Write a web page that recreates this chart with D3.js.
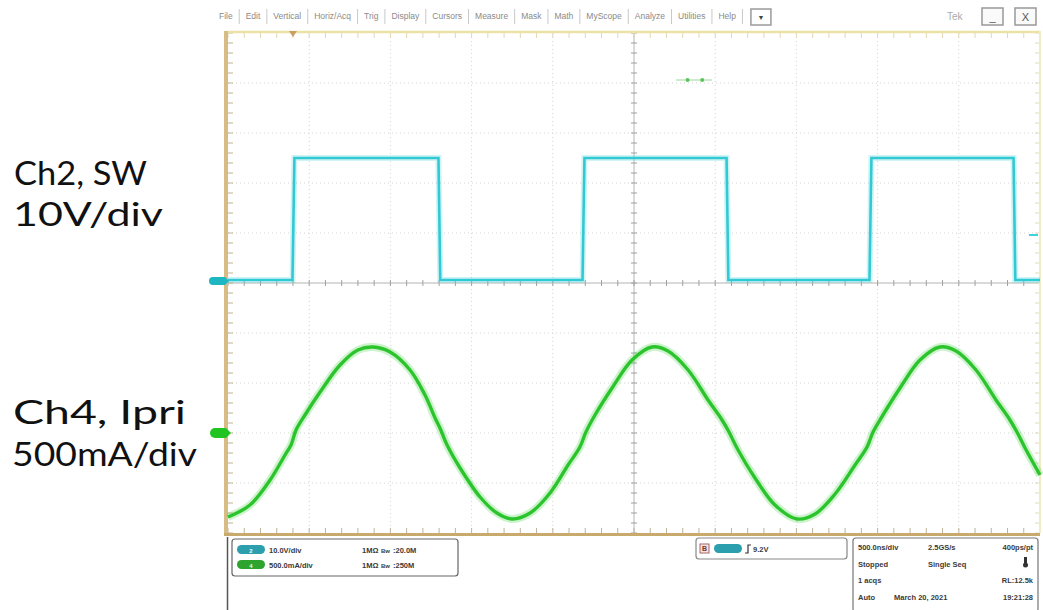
<!DOCTYPE html>
<html>
<head>
<meta charset="utf-8">
<script src="https://cdn.jsdelivr.net/npm/d3@7"></script>
<style>
  body { margin: 0; background: #fff; }
  svg { display: block; }
</style>
</head>
<body>
<div id="chart"></div>
<script>
// Oscilloscope capture: switch node (Ch2) and primary current (Ch4)

// Scope menu bar
const menuItems = ["File", "Edit", "Vertical", "Horiz/Acq", "Trig", "Display", "Cursors",
  "Measure", "Mask", "Math", "MyScope", "Analyze", "Utilities", "Help"];

// Side labels
const ch2Label = ["Ch2, SW", "10V/div"];
const ch4Label = ["Ch4, Ipri", "500mA/div"];

// Ch2 switch node, time in us, volts
const swTime = [0, 0.397, 0.409, 1.296, 1.307, 2.183, 2.195, 3.070, 3.081, 3.950, 3.962, 4.837, 4.848, 5.0];
const swVolt = [0.2, 0.2, 24.6, 24.6, 0.2, 0.2, 24.6, 24.6, 0.2, 0.2, 24.6, 24.6, 0.2, 0.2];

// Ch4 primary current, time in us, mA
const ipriTime = [0.000, 0.135, 0.259, 0.351, 0.388, 0.419, 0.474, 0.567, 0.690, 0.800, 0.893, 0.998,
  1.121, 1.213, 1.275, 1.305, 1.349, 1.429, 1.552, 1.656, 1.749, 1.860, 1.983, 2.094, 2.167, 2.204,
  2.260, 2.365, 2.488, 2.611, 2.709, 2.833, 2.956, 3.042, 3.085, 3.134, 3.245, 3.368, 3.504, 3.615,
  3.738, 3.861, 3.935, 3.972, 4.033, 4.138, 4.261, 4.384, 4.483, 4.606, 4.729, 4.815, 4.858, 4.908, 5.000];
const ipriCurrent = [-840, -720, -470, -220, -120, 30, 180, 410, 680, 830, 860, 810,
  630, 380, 150, 50, -120, -350, -640, -800, -860, -800, -600, -320, -140, 10,
  180, 450, 730, 860, 820, 630, 330, 130, 10, -150, -450, -720, -860, -810,
  -610, -320, -140, 10, 180, 450, 730, 860, 820, 630, 330, 130, 10, -150, -420];

// Trigger
const trigSource = "2";
const trigLevel = 9.2; // V

// Readouts
const readoutChannels = ["2", "4"];
const readoutScales = ["10.0V/div", "500.0mA/div"];
const readoutCoupling = ["1MΩ", "1MΩ"];
const readoutBandwidth = ["20.0M", "250M"];
const acqRows = [
  ["500.0ns/div", "2.5GS/s", "400ps/pt"],
  ["Stopped", "Single Seq", ""],
  ["1 acqs", "", "RL:12.5k"],
  ["Auto", "March 20, 2021", "19:21:28"]];

const W = 1043, H = 610;
const svg = d3.select("#chart").append("svg").attr("width", W).attr("height", H);

const cyan = "#3dd3dd", green = "#34d034";
const plot = { left: 228, right: 1040, top: 33, bottom: 533 };

// Scales: 0.5 us/div horizontally, 10 divisions each way
const x = d3.scaleLinear().domain([0, 5]).range([plot.left, plot.right]);
const div = d3.scaleLinear().domain([-5, 5]).range([plot.bottom, plot.top]);
const ySw = d3.scaleLinear().domain([0, 10]).range([281, 231]);
const yI = d3.scaleLinear().domain([0, 500]).range([433, 383]);

// ---- menu bar
const menu = svg.append("g").attr("font-family", "Liberation Sans, Arial, sans-serif")
  .attr("font-size", 8.5).attr("fill", "#8a8a8a");
let mx = 219;
menuItems.forEach(m => {
  const t = menu.append("text").attr("x", mx).attr("y", 19).text(m);
  mx += t.node().getComputedTextLength() + 6.5;
  menu.append("line").attr("x1", mx).attr("x2", mx).attr("y1", 9).attr("y2", 24)
    .attr("stroke", "#c8c8c8");
  mx += 6.5;
});
menu.append("rect").attr("x", mx + 2).attr("y", 9).attr("width", 20).attr("height", 16)
  .attr("fill", "#fff").attr("stroke", "#9a9a9a").attr("stroke-width", 1.5);
menu.append("text").attr("x", mx + 12).attr("y", 20).attr("text-anchor", "middle")
  .attr("fill", "#444").attr("font-size", 7).text("▼");
menu.append("text").attr("x", 947).attr("y", 20).attr("font-size", 10).attr("fill", "#aaa").text("Tek");
[[982, "_"], [1015, "X"]].forEach(([bx, s]) => {
  menu.append("rect").attr("x", bx).attr("y", 8).attr("width", 21).attr("height", 17)
    .attr("fill", "#fafafa").attr("stroke", "#999").attr("stroke-width", 1.5);
  menu.append("text").attr("x", bx + 10.5).attr("y", 21).attr("text-anchor", "middle")
    .attr("font-size", 11).attr("fill", "#555").text(s);
});

// ---- graticule
const grid = svg.append("g");
grid.selectAll(".vg").data(d3.range(0.5, 5, 0.5).filter(t => Math.abs(t - 2.5) > 1e-6))
  .enter().append("line")
  .attr("x1", d => x(d)).attr("x2", d => x(d)).attr("y1", plot.top).attr("y2", plot.bottom)
  .attr("stroke", "#d4d4d4").attr("stroke-dasharray", "1,3");
grid.selectAll(".hg").data(d3.range(-4, 5).filter(v => v !== 0))
  .enter().append("line")
  .attr("x1", plot.left).attr("x2", plot.right).attr("y1", d => div(d)).attr("y2", d => div(d))
  .attr("stroke", "#d4d4d4").attr("stroke-dasharray", "1,3");
// center cross
grid.append("line").attr("x1", x(2.5)).attr("x2", x(2.5)).attr("y1", plot.top).attr("y2", plot.bottom)
  .attr("stroke", "#b4b4b4");
grid.append("line").attr("x1", plot.left).attr("x2", plot.right).attr("y1", div(0)).attr("y2", div(0))
  .attr("stroke", "#b4b4b4");
grid.selectAll(".cxt").data(d3.range(0, 5.001, 0.1)).enter().append("line")
  .attr("x1", d => x(d)).attr("x2", d => x(d)).attr("y1", div(0) - 3).attr("y2", div(0) + 3)
  .attr("stroke", "#a0a0a0");
grid.selectAll(".cyt").data(d3.range(-5, 5.001, 0.2)).enter().append("line")
  .attr("x1", x(2.5) - 3).attr("x2", x(2.5) + 3).attr("y1", d => div(d)).attr("y2", d => div(d))
  .attr("stroke", "#a0a0a0");
// edge ticks
grid.selectAll(".lt").data(d3.range(-5, 5.001, 0.2)).enter().append("line")
  .attr("x1", plot.left).attr("x2", plot.left + 5).attr("y1", d => div(d)).attr("y2", d => div(d))
  .attr("stroke", "#c0b28e");
grid.selectAll(".rt").data(d3.range(-5, 5.001, 0.2)).enter().append("line")
  .attr("x1", plot.right - 5).attr("x2", plot.right).attr("y1", d => div(d)).attr("y2", d => div(d))
  .attr("stroke", "#e2dab8");
grid.selectAll(".bt").data(d3.range(0, 5.001, 0.1)).enter().append("line")
  .attr("x1", d => x(d)).attr("x2", d => x(d)).attr("y1", plot.bottom - 5).attr("y2", plot.bottom)
  .attr("stroke", "#bdb39a");
grid.selectAll(".tt").data(d3.range(0, 5.001, 0.1)).enter().append("line")
  .attr("x1", d => x(d)).attr("x2", d => x(d)).attr("y1", plot.top).attr("y2", plot.top + 5)
  .attr("stroke", "#e0d8b4");

// frame
grid.append("line").attr("x1", plot.left - 1).attr("x2", plot.right).attr("y1", plot.top - 1).attr("y2", plot.top - 1)
  .attr("stroke", "#eae2a6").attr("stroke-width", 2.5);
grid.append("line").attr("x1", plot.right).attr("x2", plot.right).attr("y1", plot.top - 2).attr("y2", plot.bottom)
  .attr("stroke", "#f0eac6").attr("stroke-width", 2);
grid.append("line").attr("x1", plot.left - 2).attr("x2", plot.left - 2).attr("y1", plot.top - 2).attr("y2", plot.bottom + 3)
  .attr("stroke", "#d8bc86").attr("stroke-width", 4);
grid.append("line").attr("x1", plot.left - 4).attr("x2", plot.right).attr("y1", plot.bottom + 1.5).attr("y2", plot.bottom + 1.5)
  .attr("stroke", "#c8aa6c").attr("stroke-width", 3);

// ---- traces
const traces = svg.append("g");
const swPts = swTime.map((t, i) => [x(t), ySw(swVolt[i])]);
const iPts = ipriTime.map((t, i) => [x(t), yI(ipriCurrent[i])]);
const lin = d3.line().curve(d3.curveLinear);
const smooth = d3.line().curve(d3.curveCatmullRom.alpha(0.5));

traces.append("path").attr("d", lin(swPts)).attr("fill", "none")
  .attr("stroke", cyan).attr("stroke-opacity", 0.25).attr("stroke-width", 6);
traces.append("path").attr("d", lin(swPts)).attr("fill", "none")
  .attr("stroke", "#33c9d4").attr("stroke-width", 2.6);

traces.append("path").attr("d", smooth(iPts)).attr("fill", "none")
  .attr("stroke", green).attr("stroke-opacity", 0.25).attr("stroke-width", 8);
traces.append("path").attr("d", smooth(iPts)).attr("fill", "none")
  .attr("stroke", "#2cc42c").attr("stroke-width", 3.4);

// ---- markers
const mk = svg.append("g");
// Ch2 ground marker
mk.append("path").attr("d", `M213,${ySw(0) - 4} h12 l4,4 l-4,4 h-12 a4,4 0 0 1 0,-8 z`)
  .attr("fill", "#1fb6c4");
// Ch4 ground marker
mk.append("path").attr("d", `M215,${yI(0) - 5} h11 l5,5 l-5,5 h-11 a5,5 0 0 1 0,-10 z`)
  .attr("fill", "#22c422");
// trigger level on right
mk.append("line").attr("x1", plot.right - 11).attr("x2", plot.right - 2)
  .attr("y1", ySw(trigLevel)).attr("y2", ySw(trigLevel)).attr("stroke", cyan).attr("stroke-width", 2);
// trigger position on top
mk.append("path").attr("d", `M${x(0.4) - 4},${plot.top - 2} h8 l-4,6 z`).attr("fill", "#c8a060");
// green position marker near top
mk.append("line").attr("x1", x(2.76)).attr("x2", x(2.98)).attr("y1", div(4.06)).attr("y2", div(4.06))
  .attr("stroke", "#9ad89a").attr("stroke-width", 1);
[2.83, 2.92].forEach(t => mk.append("circle").attr("cx", x(t)).attr("cy", div(4.06)).attr("r", 2)
  .attr("fill", "#5cc45c"));

// ---- side labels
const lab = svg.append("g").attr("font-family", "Lato, 'Open Sans', sans-serif")
  .attr("font-size", 33).attr("fill", "#111");
lab.append("text").attr("x", 14).attr("y", 185).attr("textLength", 133).attr("lengthAdjust", "spacingAndGlyphs").text(ch2Label[0]);
lab.append("text").attr("x", 13).attr("y", 226).attr("textLength", 150).attr("lengthAdjust", "spacingAndGlyphs").text(ch2Label[1]);
lab.append("text").attr("x", 13).attr("y", 424).attr("textLength", 173).attr("lengthAdjust", "spacingAndGlyphs").text(ch4Label[0]);
lab.append("text").attr("x", 12).attr("y", 466).attr("textLength", 185).attr("lengthAdjust", "spacingAndGlyphs").text(ch4Label[1]);

// ---- bottom readouts
const rd = svg.append("g").attr("font-family", "Liberation Sans, Arial, sans-serif")
  .attr("font-size", 7.5).attr("font-weight", "bold").attr("fill", "#3a3a3a");
rd.append("line").attr("x1", 227.5).attr("x2", 227.5).attr("y1", 537).attr("y2", 610)
  .attr("stroke", "#555").attr("stroke-width", 1.5);
rd.append("rect").attr("x", 232).attr("y", 539).attr("width", 226).attr("height", 37).attr("rx", 3)
  .attr("fill", "#fff").attr("stroke", "#666").attr("stroke-width", 1.2);
const badgeColor = { "2": "#2b9fae", "4": "#2ea42e" };
readoutChannels.forEach((c, i) => {
  const yy = 550 + i * 15;
  rd.append("rect").attr("x", 237).attr("y", yy - 5).attr("width", 28).attr("height", 9).attr("rx", 4.5)
    .attr("fill", badgeColor[c]);
  rd.append("text").attr("x", 251).attr("y", yy + 2.5).attr("text-anchor", "middle").attr("fill", "#dff").attr("font-size", 6).text(c);
  rd.append("text").attr("x", 269).attr("y", yy + 2.5).text(readoutScales[i]);
  rd.append("text").attr("x", 362).attr("y", yy + 2.5).text(readoutCoupling[i]);
  rd.append("text").attr("x", 381).attr("y", yy + 2.5).attr("font-size", 6).text("Bw");
  rd.append("text").attr("x", 393).attr("y", yy + 2.5).text(":" + readoutBandwidth[i]);
});

// trigger box
rd.append("rect").attr("x", 696).attr("y", 538).attr("width", 151).attr("height", 21).attr("rx", 3)
  .attr("fill", "#fff").attr("stroke", "#888").attr("stroke-width", 1.2);
rd.append("rect").attr("x", 700).attr("y", 544).attr("width", 9).attr("height", 9)
  .attr("fill", "#f4e4e4").attr("stroke", "#a66");
rd.append("text").attr("x", 704.5).attr("y", 551).attr("text-anchor", "middle").attr("font-size", 7).attr("fill", "#733").text("B");
rd.append("rect").attr("x", 714).attr("y", 544).attr("width", 28).attr("height", 9).attr("rx", 4.5)
  .attr("fill", badgeColor[trigSource]);
rd.append("path").attr("d", "M745,553 h3 v-8 h3").attr("fill", "none").attr("stroke", "#333").attr("stroke-width", 1.2);
rd.append("text").attr("x", 753).attr("y", 552).text(trigLevel.toFixed(1) + "V");

// acquisition box
rd.append("rect").attr("x", 853).attr("y", 538).attr("width", 185).attr("height", 74).attr("rx", 3)
  .attr("fill", "#fff").attr("stroke", "#777").attr("stroke-width", 1.2);
const colX = [858, 928, 1033];
acqRows.forEach((row, r) => {
  const yy = 550 + r * 16.5;
  row.forEach((s, c) => {
    if (!s) return;
    const cx = (r === 3 && c === 1) ? 894 : colX[c];
    rd.append("text").attr("x", cx).attr("y", yy)
      .attr("text-anchor", c === 2 ? "end" : "start").text(s);
  });
});
// small thermometer-like icon
rd.append("rect").attr("x", 1024).attr("y", 557).attr("width", 3).attr("height", 7).attr("fill", "#333");
rd.append("circle").attr("cx", 1025.5).attr("cy", 565).attr("r", 2.5).attr("fill", "#333");
</script>
</body>
</html>
